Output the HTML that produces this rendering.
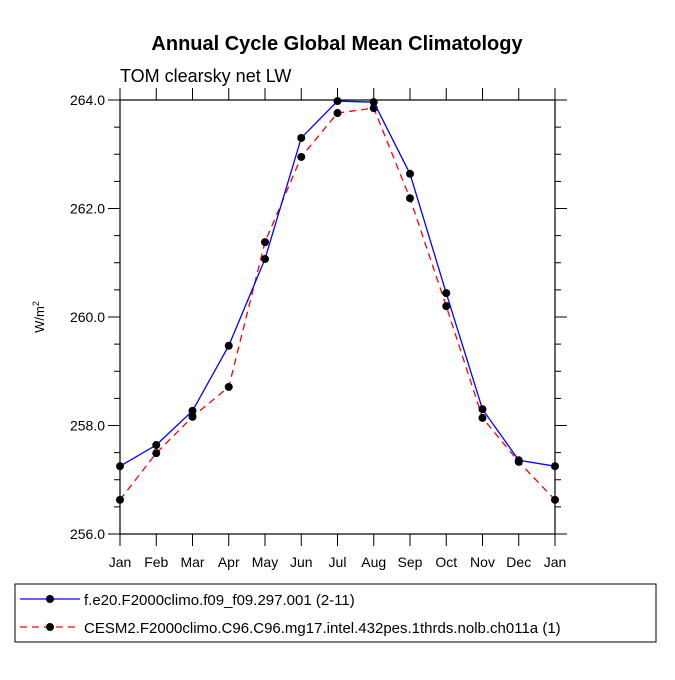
<!DOCTYPE html><html><head><style>body{margin:0;background:#fff}svg{font-family:"Liberation Sans",sans-serif}</style></head><body>
<svg width="675" height="675" viewBox="0 0 675 675">
<text x="337" y="50" text-anchor="middle" font-size="20" font-weight="bold">Annual Cycle Global Mean Climatology</text>
<text x="120" y="82" font-size="18">TOM clearsky net LW</text>
<g id="axes"></g>
<g id="series"></g>
<text transform="translate(44,317) rotate(-90)" text-anchor="middle" font-size="13">W/m<tspan dy="-5" font-size="9">2</tspan></text>
<rect x="15" y="584" width="641" height="58" fill="none" stroke="#000"/>
<g><line x1="20" y1="599" x2="80" y2="599" stroke="#00f" stroke-width="1.3"/><circle cx="50" cy="599" r="4" fill="#000"/><text x="84" y="605" font-size="15">f.e20.F2000climo.f09_f09.297.001 (2-11)</text></g>
<g><line x1="20" y1="627" x2="80" y2="627" stroke="#f00" stroke-width="1.3" stroke-dasharray="7,5"/><circle cx="50" cy="627" r="4" fill="#000"/><text x="84" y="633" font-size="15">CESM2.F2000climo.C96.C96.mg17.intel.432pes.1thrds.nolb.ch011a (1)</text></g>
</svg>
<script>
const months=["Jan","Feb","Mar","Apr","May","Jun","Jul","Aug","Sep","Oct","Nov","Dec","Jan"];
const blueValues=[257.25,257.64,258.27,259.47,261.07,263.30,263.98,263.96,262.64,260.44,258.30,257.36,257.25];
const redValues=[256.63,257.49,258.16,258.71,261.38,262.95,263.76,263.85,262.19,260.20,258.14,257.33,256.63];
const yTicks=[256,258,260,262,264];
const NS="http://www.w3.org/2000/svg";
const X0=120,X1=555,Y0=534,Y1=100,YMIN=256,YMAX=264;
const xs=i=>X0+(X1-X0)*i/(months.length-1);
const ys=v=>Y0-(v-YMIN)/(YMAX-YMIN)*(Y0-Y1);
function mk(t,a,p){const e=document.createElementNS(NS,t);for(const k in a)e.setAttribute(k,a[k]);p.appendChild(e);return e;}
const ax=document.getElementById('axes');
const fr=mk('rect',{x:X0,y:Y1,width:X1-X0,height:Y0-Y1,fill:'none',stroke:'#000','stroke-width':1.2},ax);


for(let v=YMIN;v<=YMAX+1e-9;v+=0.5){const maj=Math.abs(v-Math.round(v/2)*2)<1e-9;const L=maj?12:6;
mk('line',{x1:X0-L,x2:X0,y1:ys(v),y2:ys(v),stroke:'#000'},ax);mk('line',{x1:X1,x2:X1+L,y1:ys(v),y2:ys(v),stroke:'#000'},ax);}
yTicks.forEach(v=>{const t=mk('text',{x:X0-15,y:ys(v)+5,'text-anchor':'end','font-size':14},ax);t.textContent=v.toFixed(1);

});
months.forEach((m,i)=>{mk('line',{x1:xs(i),x2:xs(i),y1:Y0,y2:Y0+12,stroke:'#000'},ax);mk('line',{x1:xs(i),x2:xs(i),y1:Y1,y2:Y1-12,stroke:'#000'},ax);
const t=mk('text',{x:xs(i),y:Y0+33,'text-anchor':'middle','font-size':14},ax);t.textContent=m;

});
const sg=document.getElementById('series');
function series(vals,col,dash,name){const pl=mk('polyline',{points:vals.map((v,i)=>xs(i)+','+ys(v)).join(' '),fill:'none',stroke:col,'stroke-width':1.3,'stroke-dasharray':dash},sg);


vals.forEach((v,i)=>{const c=mk('circle',{cx:xs(i),cy:ys(v),r:4,fill:'#000'},sg);

});}
series(redValues,'#f00','7,5','red-series');
series(blueValues,'#00f','none','blue-series');
</script></body></html>
